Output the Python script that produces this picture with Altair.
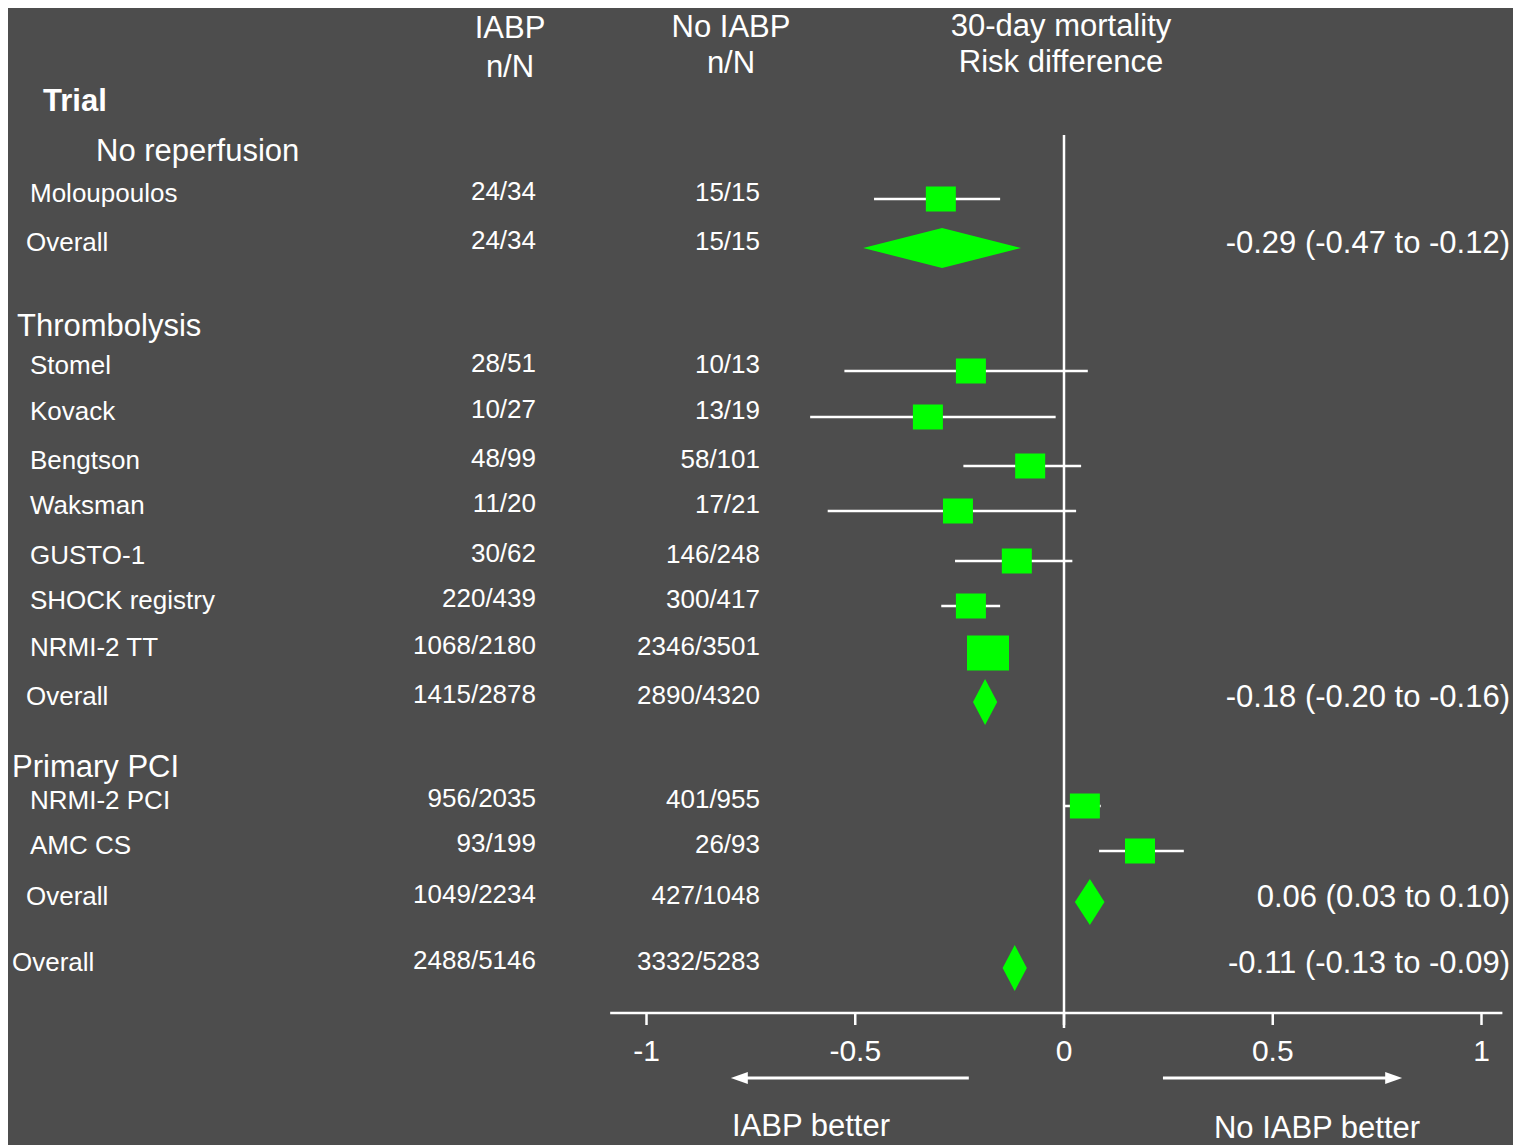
import altair as alt
import pandas as pd

# ---------------- data ----------------
trial = ["Moloupoulos", "Overall",
         "Stomel", "Kovack", "Bengtson", "Waksman", "GUSTO-1",
         "SHOCK registry", "NRMI-2 TT", "Overall",
         "NRMI-2 PCI", "AMC CS", "Overall",
         "Overall"]
row_kind = ["study", "subtotal",
            "study", "study", "study", "study", "study", "study", "study", "subtotal",
            "study", "study", "subtotal",
            "total"]
iabp_nN = ["24/34", "24/34",
           "28/51", "10/27", "48/99", "11/20", "30/62", "220/439", "1068/2180", "1415/2878",
           "956/2035", "93/199", "1049/2234",
           "2488/5146"]
no_iabp_nN = ["15/15", "15/15",
              "10/13", "13/19", "58/101", "17/21", "146/248", "300/417", "2346/3501", "2890/4320",
              "401/955", "26/93", "427/1048",
              "3332/5283"]
risk_diff = [-0.295, -0.292,
             -0.223, -0.326, -0.081, -0.254, -0.113, -0.223, -0.182, -0.189,
             0.050, 0.182, 0.062,
             -0.118]
ci_low = [-0.455, -0.481,
          -0.526, -0.608, -0.241, -0.566, -0.261, -0.294, -0.200, -0.218,
          0.001, 0.084, 0.026,
          -0.147]
ci_high = [-0.153, -0.103,
           0.057, -0.020, 0.041, 0.029, 0.020, -0.153, -0.160, -0.160,
           0.088, 0.287, 0.097,
           -0.089]
summary_text = ["", "-0.29 (-0.47 to -0.12)",
                "", "", "", "", "", "", "", "-0.18 (-0.20 to -0.16)",
                "", "", "0.06 (0.03 to 0.10)",
                "-0.11 (-0.13 to -0.09)"]
group_titles = ["No reperfusion", "Thrombolysis", "Primary PCI"]
tick_values = [-1, -0.5, 0, 0.5, 1]
tick_labels = ["-1", "-0.5", "0", "0.5", "1"]
direction_labels = ["IABP better", "No IABP better"]

# ---------------- layout / style ----------------
FONT = "Liberation Sans"
WHITE = "#ffffff"
GREEN = "#00ff00"
BG = "#4d4d4d"

W, H = 1505, 1137
OX = OY = 8                      # page margin
ZERO_PX, UNIT_PX = 1064.0, 417.5  # page position of 0 and pixels per unit

ROW_Y = [199, 248, 371, 417, 466, 511, 561, 606, 653, 702, 806, 851, 902, 968]
NAME_X = {"study": 30, "subtotal": 26, "total": 12}
GROUP_POS = [(96, 150), (17, 325), (12, 766)]
BIG_SIDE, SIDE = 42, 30
RECT = "M-1,-0.833L1,-0.833L1,0.833L-1,0.833Z"
HEAD_L = "M-1,0L1,-0.72L1,0.72Z"
HEAD_R = "M1,0L-1,-0.72L-1,0.72Z"
HEAD_PX = 17
AXIS_Y = 1013
SMALL, BIG = 26, 31

xs = alt.Scale(domain=[(OX - ZERO_PX) / UNIT_PX, (OX + W - ZERO_PX) / UNIT_PX],
               nice=False, zero=False)
ys = alt.Scale(domain=[OY, OY + H], nice=False, zero=False, reverse=True)


def X(f):
    return alt.X(f, type="quantitative", scale=xs, axis=None)


def Y(f):
    return alt.Y(f, type="quantitative", scale=ys, axis=None, stack=None)


def cap(c, size):
    # vega 'middle' baseline -> shift so that cap-height centre sits on c
    return c + 0.058 * size


def text_layer(data, x_px, align, size, weight="normal"):
    return alt.Chart(data).mark_text(
        align=align, baseline="middle", font=FONT, fontSize=size,
        fontWeight=weight, color=WHITE
    ).encode(x=alt.value(x_px - OX), y=Y("ty"), text=alt.Text("label:N"))


df = pd.DataFrame(dict(trial=trial, kind=row_kind, iabp=iabp_nN, no_iabp=no_iabp_nN,
                       rd=risk_diff, lo=ci_low, hi=ci_high, summary=summary_text))
df["y"] = ROW_Y

# ---------------- forest marks ----------------
studies = df[df.kind == "study"].copy()
studies["size"] = [(BIG_SIDE if t == "NRMI-2 TT" else SIDE) ** 2 for t in studies.trial]

zero_line = alt.Chart(pd.DataFrame({"x": [tick_values[2]], "y1": [135], "y2": [1028]})).mark_rule(
    color=WHITE, strokeWidth=2.5).encode(x=X("x"), y=Y("y1"), y2="y2")

ci = alt.Chart(studies).mark_rule(color=WHITE, strokeWidth=2.3).encode(
    x=X("lo"), x2="hi", y=Y("y"))

squares = alt.Chart(studies).mark_point(
    shape=RECT, filled=True, color=GREEN, opacity=1, strokeWidth=0
).encode(x=X("rd"), y=Y("y"), size=alt.Size("size:Q", scale=None, legend=None))

pooled = df[df.kind != "study"].reset_index(drop=True)
pts = []
for i, r in pooled.iterrows():
    half = 20 if i == 0 else 23
    for xv, h in ((r.lo, 0), (r.rd, half), (r.hi, 0)):
        pts.append(dict(id=i, x=xv, top=r.y - h, bot=r.y + h))
diamonds = alt.Chart(pd.DataFrame(pts)).mark_area(
    color=GREEN, opacity=1, interpolate="linear"
).encode(x=X("x"), y=Y("top"), y2="bot", detail="id:N")

# ---------------- hand-made axis ----------------
axis_line = alt.Chart(pd.DataFrame({"x1": [-1.087], "x2": [1.05], "y": [AXIS_Y]})).mark_rule(
    color=WHITE, strokeWidth=2.5).encode(x=X("x1"), x2="x2", y=Y("y"))

tick_df = pd.DataFrame({"x": tick_values, "y1": [AXIS_Y] * 5, "y2": [AXIS_Y + 12] * 5,
                        "label": tick_labels, "ty": [cap(1050, 30)] * 5})
ticks = alt.Chart(tick_df).mark_rule(color=WHITE, strokeWidth=2.5).encode(
    x=X("x"), y=Y("y1"), y2="y2")
tick_text = alt.Chart(tick_df).mark_text(
    align="center", baseline="middle", font=FONT, fontSize=30, color=WHITE
).encode(x=X("x"), y=Y("ty"), text="label:N")

head = HEAD_PX / 2 / UNIT_PX
arrows_df = pd.DataFrame({"tail": [-0.228, 0.237], "tip": [-0.798, 0.810]})
arrows_df["hc"] = [arrows_df.tip[0] + head, arrows_df.tip[1] - head]
arrows_df["y"] = 1078
shafts = alt.Chart(arrows_df).mark_rule(color=WHITE, strokeWidth=3).encode(
    x=X("tail"), x2="hc", y=Y("y"))
head_l = alt.Chart(arrows_df.iloc[[0]]).mark_point(
    shape=HEAD_L, filled=True, color=WHITE, opacity=1, size=HEAD_PX ** 2, strokeWidth=0
).encode(x=X("hc"), y=Y("y"))
head_r = alt.Chart(arrows_df.iloc[[1]]).mark_point(
    shape=HEAD_R, filled=True, color=WHITE, opacity=1, size=HEAD_PX ** 2, strokeWidth=0
).encode(x=X("hc"), y=Y("y"))

dir_df = pd.DataFrame({"x": [-0.606, 0.606], "label": direction_labels,
                       "ty": [cap(1125, BIG), cap(1127, BIG)]})
dir_text = alt.Chart(dir_df).mark_text(
    align="center", baseline="middle", font=FONT, fontSize=BIG, color=WHITE
).encode(x=X("x"), y=Y("ty"), text="label:N")

# ---------------- table text ----------------
layers = [zero_line, ci, squares, diamonds, axis_line, ticks, tick_text,
          shafts, head_l, head_r, dir_text]

for kind, xpx in NAME_X.items():
    sub = df[df.kind == kind]
    layers.append(text_layer(pd.DataFrame({"label": sub.trial, "ty": [cap(v - 7, SMALL) for v in sub.y]}),
                             xpx, "left", SMALL))

layers.append(text_layer(pd.DataFrame({"label": df.iabp, "ty": [cap(v - 9, SMALL) for v in df.y]}),
                         536, "right", SMALL))
layers.append(text_layer(pd.DataFrame({"label": df.no_iabp, "ty": [cap(v - 8, SMALL) for v in df.y]}),
                         760, "right", SMALL))

summ = df[df.summary != ""]
layers.append(text_layer(pd.DataFrame({"label": summ.summary, "ty": [cap(v - 6, BIG) for v in summ.y]}),
                         1510, "right", BIG))

for title, (gx, gy) in zip(group_titles, GROUP_POS):
    layers.append(text_layer(pd.DataFrame({"label": [title], "ty": [cap(gy, BIG)]}), gx, "left", BIG))

layers.append(text_layer(pd.DataFrame({"label": ["Trial"], "ty": [cap(100, BIG)]}), 43, "left", BIG, "bold"))

headers = [("IABP", 510, 27), ("n/N", 510, 66),
           ("No IABP", 731, 26), ("n/N", 731, 62),
           ("30-day mortality", 1061, 25), ("Risk difference", 1061, 61)]
for lab, hx, hy in headers:
    layers.append(text_layer(pd.DataFrame({"label": [lab], "ty": [cap(hy, BIG)]}), hx, "center", BIG))

chart = alt.layer(*layers).properties(
    width=W, height=H, background=BG, padding=0,
    autosize=alt.AutoSizeParams(type="none")
).configure_view(stroke=None)

chart.save("out.html", embed_options={"renderer": "svg", "actions": False})
